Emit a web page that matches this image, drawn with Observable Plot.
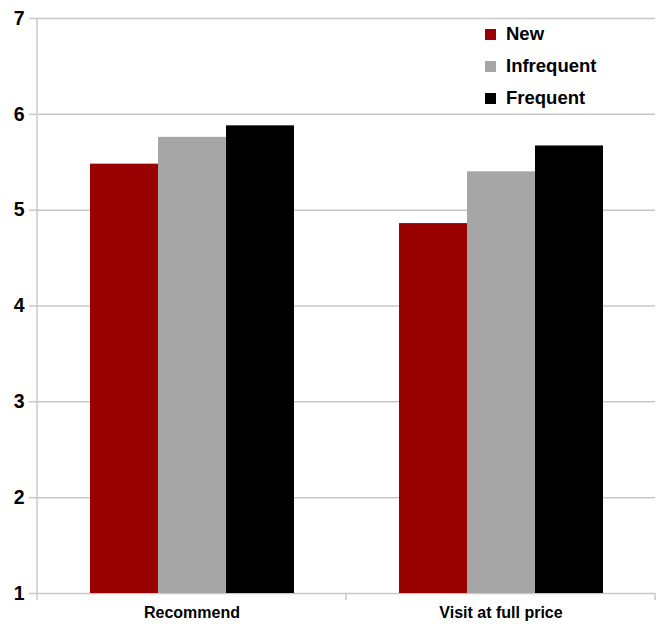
<!DOCTYPE html>
<html>
<head>
<meta charset="utf-8">
<script src="https://cdn.jsdelivr.net/npm/d3@7"></script>
<script src="https://cdn.jsdelivr.net/npm/@observablehq/plot@0.6"></script>
<style>
  html, body { margin: 0; padding: 0; background: #fff; }
  #wrap { position: relative; width: 659px; height: 627px; }
  #legend { position: absolute; left: 485px; top: 18px; font-family: "Liberation Sans", Arial, sans-serif; font-weight: bold; font-size: 18.5px; color: #000; }
  .row { display: flex; align-items: center; height: 32px; }
  .sw { width: 11px; height: 11px; margin-right: 10px; }
</style>
</head>
<body>
<div id="wrap"><div id="chart"></div><div id="legend"></div></div>
<script>
const categories = ["Recommend", "Visit at full price"];
const series = ["New", "Infrequent", "Frequent"];
const seriesColors = ["#990000", "#a6a6a6", "#000000"];
const newValues = [5.48, 4.86];
const infrequentValues = [5.76, 5.40];
const frequentValues = [5.88, 5.67];
const yTicks = [1, 2, 3, 4, 5, 6, 7];

const seriesValues = [newValues, infrequentValues, frequentValues];
const data = categories.flatMap((c, i) =>
  series.map((s, j) => ({category: c, series: s, value: seriesValues[j][i]}))
);

const gridColor = "#c8c8c8";
const font = "Liberation Sans, Arial, sans-serif";

const plot = Plot.plot({
  width: 659,
  height: 627,
  marginLeft: 37,
  marginRight: 4,
  marginTop: 18,
  marginBottom: 34,
  fx: {domain: categories, padding: 0, label: null},
  x: {domain: series, paddingInner: 0, paddingOuter: 0.74, axis: null},
  y: {domain: [1, 7], label: null},
  color: {domain: series, range: seriesColors},
  marks: [
    Plot.gridY(yTicks.slice(1), {stroke: gridColor, strokeOpacity: 1, strokeWidth: 1.5}),
    Plot.ruleY([yTicks[0]], {stroke: gridColor, strokeWidth: 1.5}),
    Plot.barY(data, {fx: "category", x: "series", y1: yTicks[0], y2: "value", fill: "series"}),
    Plot.axisY(yTicks, {tickSize: 8, tickPadding: 5, tickFormat: d3.format("d"), stroke: gridColor, strokeWidth: 1.5, fill: "#000",
      fontSize: 19.5, fontWeight: "bold", fontFamily: font, label: null}),
    Plot.axisFx({anchor: "bottom", tickSize: 0, tickPadding: 13, fill: "#000", fontSize: 16, fontWeight: "bold", fontFamily: font, label: null})
  ]
});

// axis line and category boundary ticks, positioned from the plot's own scales
const fx = plot.scale("fx");
const y = plot.scale("y");
const svg = d3.select(plot.tagName === "svg" ? plot : plot.querySelector("svg"));
const y0 = y.apply(yTicks[0]);
const yTop = y.apply(yTicks[yTicks.length - 1]);
const g = svg.append("g").attr("stroke", gridColor).attr("stroke-width", 1.5);
const left = fx.apply(categories[0]);
g.append("line").attr("x1", left).attr("x2", left).attr("y1", yTop).attr("y2", y0 + 7);
categories.forEach(c => {
  const xr = fx.apply(c) + fx.bandwidth;
  g.append("line").attr("x1", xr).attr("x2", xr).attr("y1", y0).attr("y2", y0 + 7);
});

document.getElementById("chart").appendChild(plot);

const legend = d3.select("#legend");
series.forEach((s, i) => {
  const row = legend.append("div").attr("class", "row");
  row.append("div").attr("class", "sw").style("background", seriesColors[i]);
  row.append("span").text(s);
});
</script>
</body>
</html>
